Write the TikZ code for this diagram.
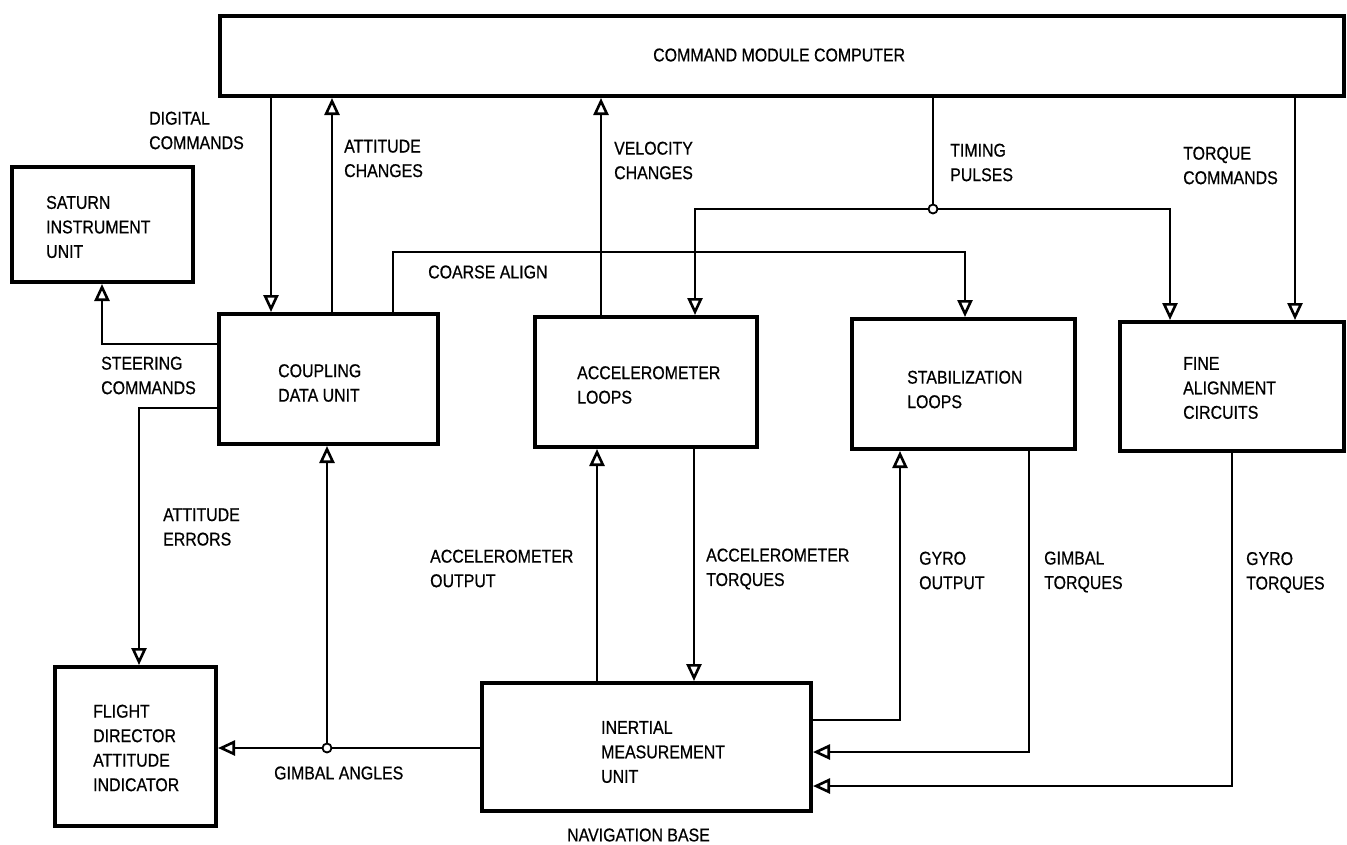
\documentclass[tikz,border=0pt]{standalone}
\usepackage{fontspec}
\newfontfamily\diagfont[FakeStretch=0.86,FakeBold=0.6]{Liberation Sans}
\usetikzlibrary{arrows.meta}
\begin{document}
\begin{tikzpicture}[x=1pt,y=-1pt,
  box/.style={draw, line width=4pt, inner sep=0pt, rectangle},
  txt/.style={font=\diagfont\fontsize{18.5pt}{24.5pt}\selectfont, inner sep=0pt, align=left, anchor=west},
  conn/.style={line width=2.4pt},
  arr/.style={conn, -{Triangle[open, width=15pt, length=17pt, line width=2.6pt]}},
  jdot/.style={circle, draw, fill=white, line width=1.8pt, inner sep=0pt, minimum size=9pt}]
\useasboundingbox (0,0) rectangle (1347,844);

% boxes
\node[box, minimum width=1124pt, minimum height=80pt] (cmc) at (782,56) {};
\node[box, minimum width=181pt, minimum height=115pt] (sat) at (102.5,224.5) {};
\node[box, minimum width=219pt, minimum height=130pt] (cdu) at (328.5,379) {};
\node[box, minimum width=222pt, minimum height=130pt] (acc) at (646,382) {};
\node[box, minimum width=223pt, minimum height=130pt] (stab) at (963.5,384) {};
\node[box, minimum width=224pt, minimum height=129pt] (fine) at (1232,386.5) {};
\node[box, minimum width=161pt, minimum height=159pt] (fdai) at (135.5,746.5) {};
\node[box, minimum width=329pt, minimum height=128pt] (imu) at (646.5,747) {};

% box texts
\node[txt] (tcmc) at (653,55) {COMMAND MODULE COMPUTER};
\node[txt] (tsat) at (46,227) {SATURN\\INSTRUMENT\\UNIT};
\node[txt] (tcdu) at (278,383) {COUPLING\\DATA UNIT};
\node[txt] (tacc) at (577,385) {ACCELEROMETER\\LOOPS};
\node[txt] (tstab) at (907,389.5) {STABILIZATION\\LOOPS};
\node[txt] (tfine) at (1183,388) {FINE\\ALIGNMENT\\CIRCUITS};
\node[txt] (tfdai) at (93,748) {FLIGHT\\DIRECTOR\\ATTITUDE\\INDICATOR};
\node[txt] (timu) at (601,752) {INERTIAL\\MEASUREMENT\\UNIT};

% connectors
\draw[arr] (271,0 |- cmc.south) -- (271,0 |- cdu.north);
\draw[arr] (332,0 |- cdu.north) -- (332,0 |- cmc.south);
\draw[arr] (601,0 |- acc.north) -- (601,0 |- cmc.south);
\coordinate (tj) at (933,209);
\draw[conn] (933,0 |- cmc.south) -- (tj);
\draw[arr] (tj) -| (695,0 |- acc.north);
\draw[arr] (tj) -| (1170,0 |- fine.north);
\node[jdot] (tjd) at (tj) {};
\draw[arr] (1295,0 |- cmc.south) -- (1295,0 |- fine.north);
\draw[arr] (393,0 |- cdu.north) |- (965,252) -- (965,0 |- stab.north);
\draw[arr] (cdu.west |- 0,344) -| (102,0 |- sat.south);
\draw[arr] (cdu.west |- 0,408) -| (139,0 |- fdai.north);
\coordinate (gj) at (327,748);
\draw[arr] (imu.west |- gj) -- (fdai.east |- gj);
\draw[arr] (gj) -- (gj |- cdu.south);
\node[jdot] (gjd) at (gj) {};
\draw[arr] (597,0 |- imu.north) -- (597,0 |- acc.south);
\draw[arr] (694,0 |- acc.south) -- (694,0 |- imu.north);
\draw[arr] (imu.east |- 0,720) -| (900,0 |- stab.south);
\draw[arr] (1029,0 |- stab.south) |- (imu.east |- 0,752);
\draw[arr] (1232,0 |- fine.south) |- (imu.east |- 0,786);

% labels
\node[txt] (l1) at (149,130.5) {DIGITAL\\COMMANDS};
\node[txt] (l2) at (344,158.5) {ATTITUDE\\CHANGES};
\node[txt] (l3) at (614,160.5) {VELOCITY\\CHANGES};
\node[txt] (l4) at (950,162.5) {TIMING\\PULSES};
\node[txt] (l5) at (1183,165.5) {TORQUE\\COMMANDS};
\node[txt] (l6) at (428,272) {COARSE ALIGN};
\node[txt] (l7) at (101,375.5) {STEERING\\COMMANDS};
\node[txt] (l8) at (163,527) {ATTITUDE\\ERRORS};
\node[txt] (l9) at (430,568.5) {ACCELEROMETER\\OUTPUT};
\node[txt] (l10) at (706,569) {ACCELEROMETER\\TORQUES};
\node[txt] (l11) at (919,570.5) {GYRO\\OUTPUT};
\node[txt] (l12) at (1044,572) {GIMBAL\\TORQUES};
\node[txt] (l13) at (1246,572.5) {GYRO\\TORQUES};
\node[txt] (l14) at (274,773) {GIMBAL ANGLES};
\node[txt] (l15) at (567,835) {NAVIGATION BASE};
\end{tikzpicture}
\end{document}
